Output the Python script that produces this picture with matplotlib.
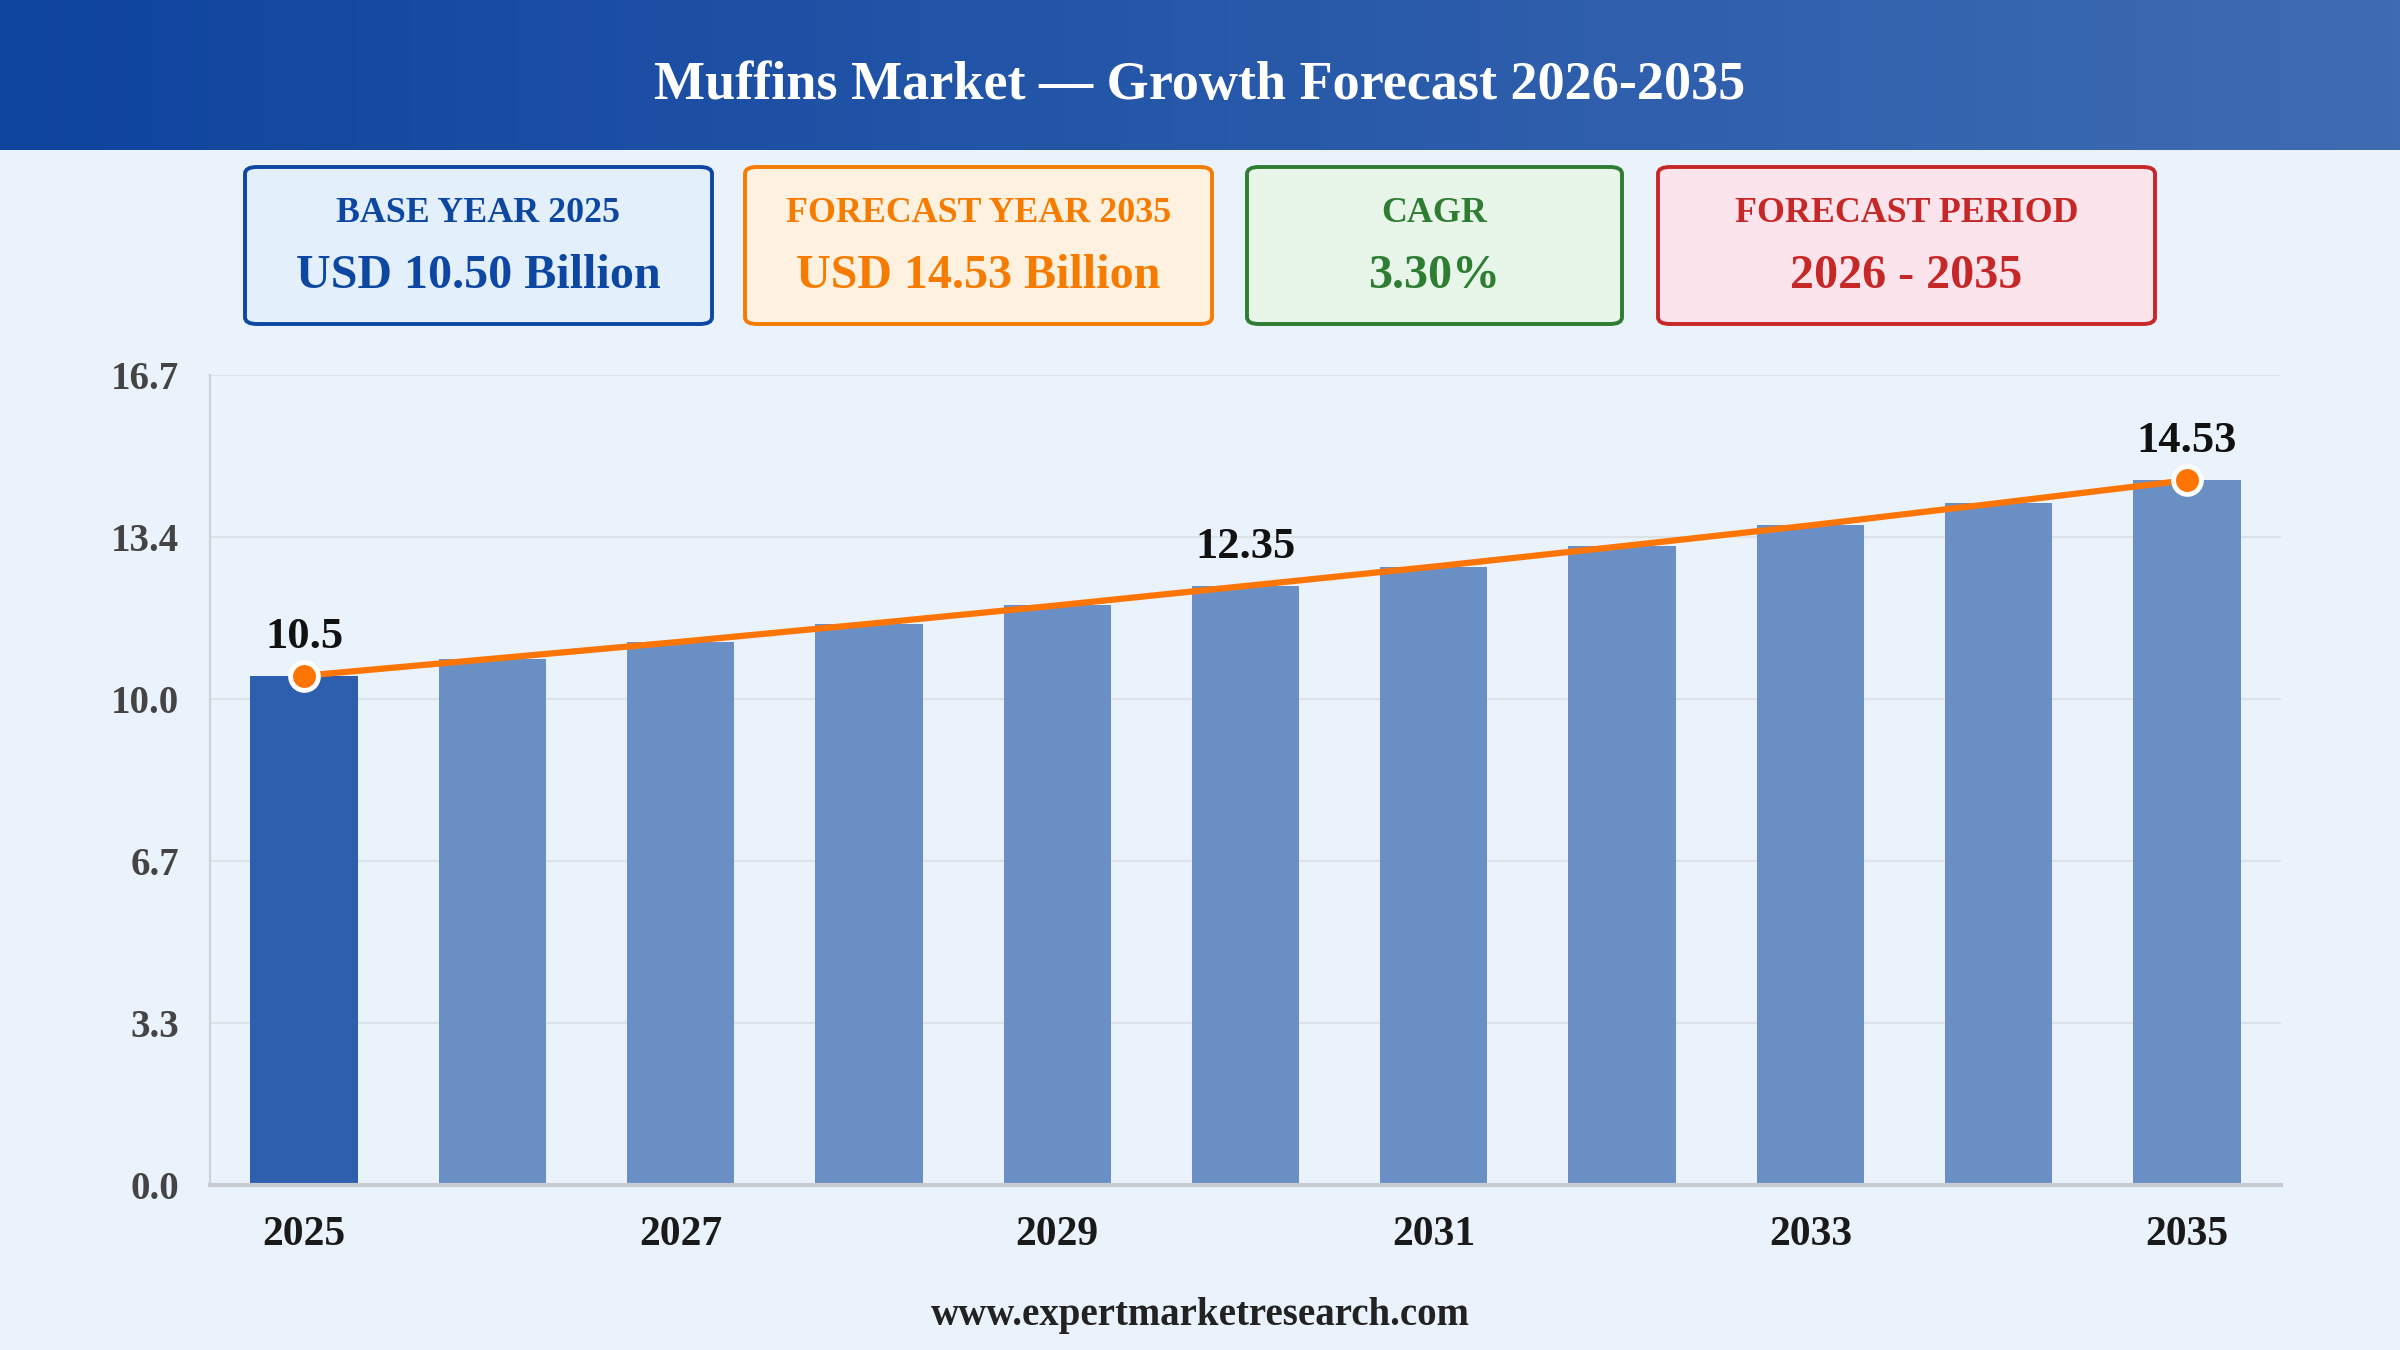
import numpy as np
import matplotlib
matplotlib.use('Agg')
import matplotlib.pyplot as plt
from matplotlib.patches import FancyBboxPatch

plt.rcParams['font.family'] = ['Liberation Serif', 'DejaVu Serif']
plt.rcParams['font.weight'] = 'bold'

# data
years = [2025, 2026, 2027, 2028, 2029, 2030, 2031, 2032, 2033, 2034, 2035]
values = [10.5, 10.85, 11.2, 11.57, 11.95, 12.35, 12.75, 13.17, 13.6, 14.06, 14.53]
labelled_years = [2025, 2030, 2035]
label_texts = ['10.5', '12.35', '14.53']
marker_years = [2025, 2035]
y_ticks = [0.0, 3.34, 6.68, 10.02, 13.36, 16.7]
y_tick_labels = ['0.0', '3.3', '6.7', '10.0', '13.4', '16.7']
x_tick_years = [2025, 2027, 2029, 2031, 2033, 2035]

title = 'Muffins Market \u2014 Growth Forecast 2026-2035'
card_titles = ['BASE YEAR 2025', 'FORECAST YEAR 2035', 'CAGR', 'FORECAST PERIOD']
card_values = ['USD 10.50 Billion', 'USD 14.53 Billion', '3.30%', '2026 - 2035']
footer = 'www.expertmarketresearch.com'

BG = '#eaf2fb'
W, H = 2400, 1350

fig = plt.figure(figsize=(24, 13.5), dpi=100, facecolor=BG)

# header band with horizontal gradient
hdr = fig.add_axes([0, 1 - 150 / H, 1, 150 / H])
grad = np.linspace(0, 1, 256).reshape(1, -1)
cmap = matplotlib.colors.LinearSegmentedColormap.from_list('hdr', ['#0f449f', '#3e6cb3'])
hdr.imshow(grad, aspect='auto', cmap=cmap, extent=[0, 1, 0, 1])
hdr.set_axis_off()
fig.text(0.5, 1 - 99 / H, title, color='white', fontsize=39, fontweight='bold',
         ha='center', va='baseline')

# summary cards
card_x = [(245, 712), (745, 1212), (1247, 1622), (1658, 2155)]
card_fill = ['#e3f0fc', '#fff1df', '#e8f5e9', '#fce4ec']
card_edge = ['#0d47a1', '#f57c00', '#2e7d32', '#c62828']
top, bot = 167, 324
for (x0, x1), fc, ec, t, v in zip(card_x, card_fill, card_edge, card_titles, card_values):
    box = FancyBboxPatch((x0 / W, 1 - bot / H), (x1 - x0) / W, (bot - top) / H,
                         boxstyle='round,pad=0,rounding_size=0.005',
                         transform=fig.transFigure, facecolor=fc, edgecolor=ec,
                         linewidth=2.8, zorder=2)
    fig.patches.append(box)
    cx = (x0 + x1) / 2 / W
    fig.text(cx, 1 - 222 / H, t, color=ec, fontsize=25.8, fontweight='bold',
             ha='center', va='baseline', zorder=3)
    fig.text(cx, 1 - 288 / H, v, color=ec, fontsize=34.6, fontweight='bold',
             ha='center', va='baseline', zorder=3)

# main chart
ax = fig.add_axes([210 / W, 1 - 1185 / H, (2281 - 210) / W, (1185 - 375) / H])
ax.set_facecolor(BG)
x = np.arange(len(years))
bar_colors = ['#2d5fae'] + ['#6a8fc5'] * (len(years) - 1)
ax.bar(x, values, width=0.57, color=bar_colors, zorder=2)
ax.plot(x, values, color='#ff7504', linewidth=4.5, zorder=3, solid_capstyle='round')
mi = [years.index(y) for y in marker_years]
ax.plot(x[mi], [values[i] for i in mi], 'o', markersize=20, markerfacecolor='#ff7504',
        markeredgecolor='white', markeredgewidth=3.5, zorder=4)
for yr, txt in zip(labelled_years, label_texts):
    i = years.index(yr)
    ax.annotate(txt, (x[i], values[i]), xytext=(0, 20), textcoords='offset points',
                ha='center', va='baseline', fontsize=32, fontweight='bold', color='#111111',
                zorder=5)

ax.set_xlim(-0.5, len(years) - 0.5)
ax.set_ylim(0, 16.7)
ax.set_yticks(y_ticks)
ax.set_yticklabels(y_tick_labels, fontsize=28, fontweight='bold', color='#444444')
ax.set_xticks([years.index(y) for y in x_tick_years])
ax.set_xticklabels([str(y) for y in x_tick_years], fontsize=30, fontweight='bold', color='#1a1a1a')
ax.tick_params(axis='both', length=0)
ax.tick_params(axis='y', pad=22)
ax.tick_params(axis='x', pad=22)
ax.yaxis.grid(True, color='#dde2e8', linewidth=1.5, zorder=1)
ax.set_axisbelow(True)
for s in ['top', 'right']:
    ax.spines[s].set_visible(False)
ax.spines['left'].set_color('#cfd3d8')
ax.spines['left'].set_linewidth(1.6)
ax.spines['bottom'].set_color('#c8ccd2')
ax.spines['bottom'].set_linewidth(3)

fig.text(0.5, 1 - 1325 / H, footer, color='#222222', fontsize=28, fontweight='bold',
         ha='center', va='baseline')

fig.savefig('out.png', dpi=100, facecolor=BG)
